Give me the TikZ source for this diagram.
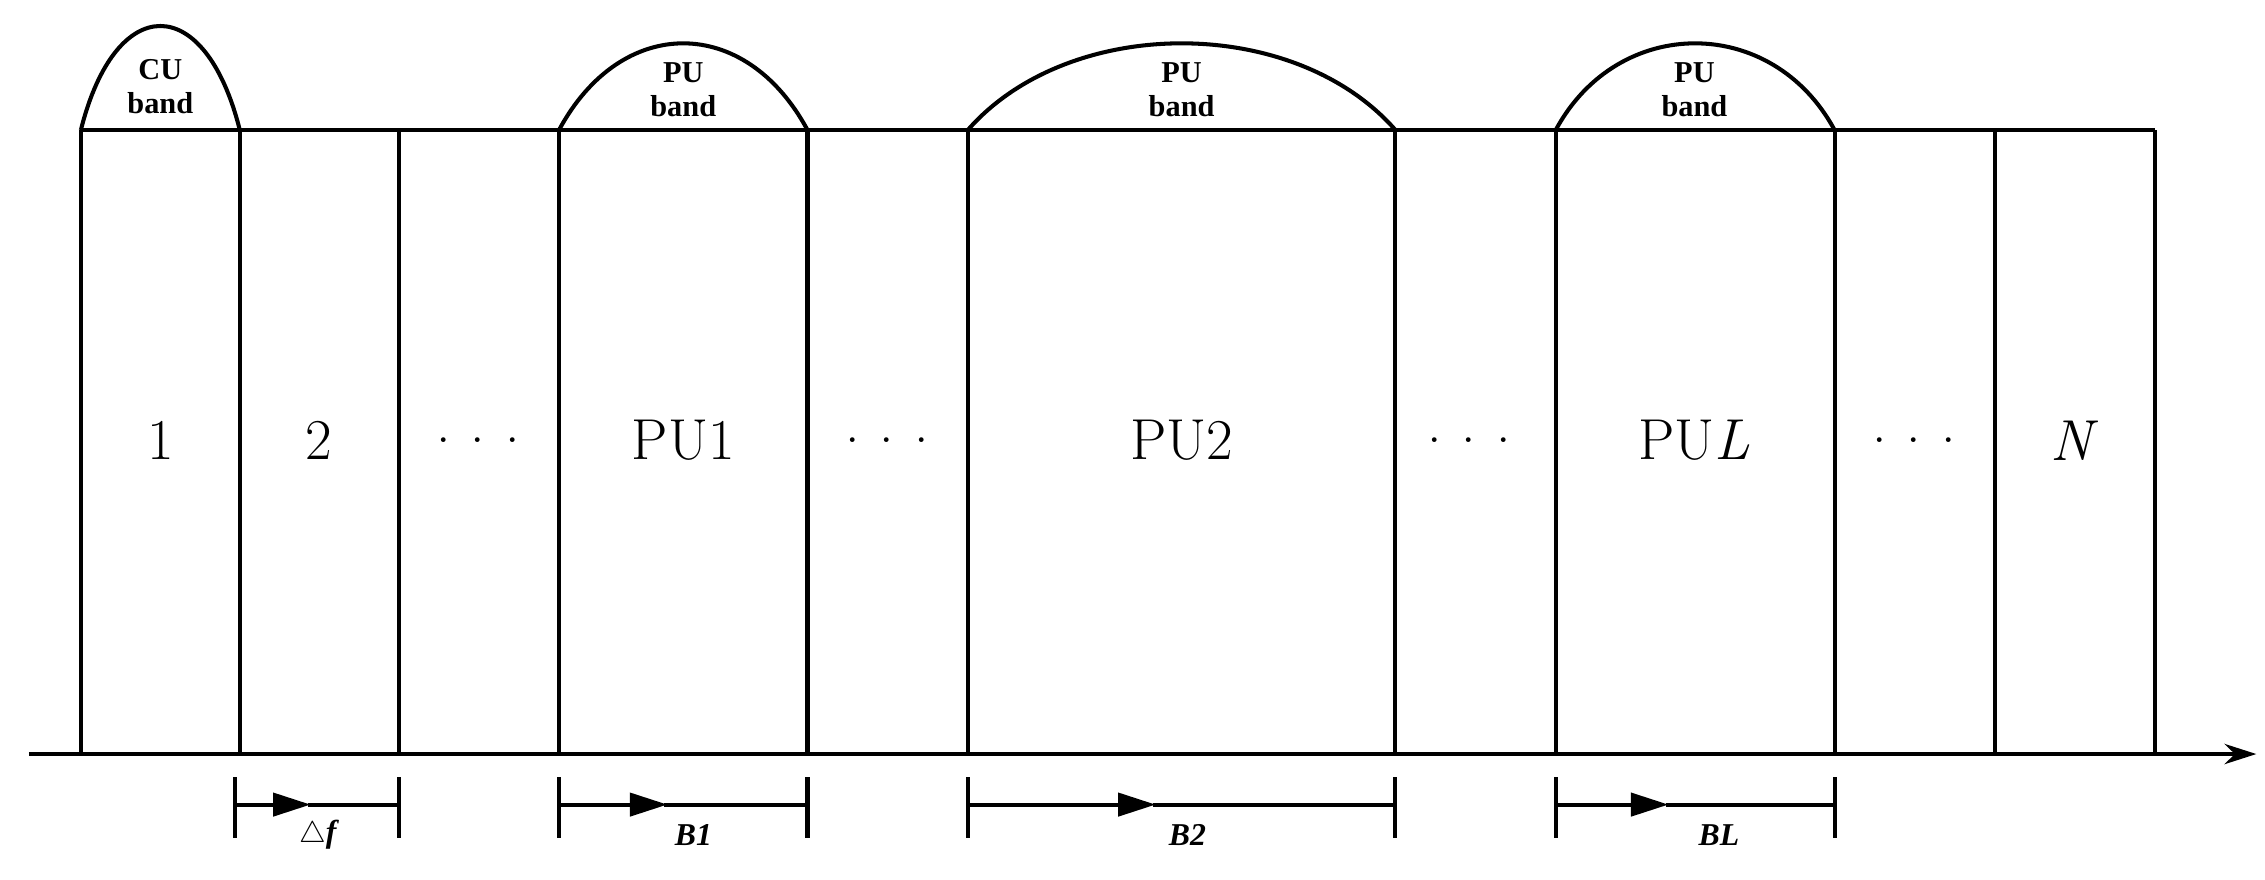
\documentclass[tikz,border=0pt]{standalone}
\usepackage{fontspec}
\newfontfamily\tnr{Liberation Serif}
\usetikzlibrary{arrows.meta}
\newcommand{\mydots}{.\hspace{0.35em}.\hspace{0.35em}.}
\begin{document}
\begin{tikzpicture}[x=1pt,y=-1pt,line width=2.8pt,
  num/.style={font=\fontsize{40}{40}\selectfont},
  band/.style={font=\tnr\bfseries\fontsize{21}{24}\selectfont,align=center},
  blab/.style={font=\tnr\bfseries\itshape\fontsize{22}{22}\selectfont},
  tip/.style={-{Triangle[length=26pt,width=16pt]}},
  tick/.style={line width=2.8pt}]
\useasboundingbox (0,0) rectangle (1568,609);
% frame
\draw (56,90) -- (1492,90);
\foreach \x in {56,166,276,387,559,670,966,1077,1270,1381,1492}
  \draw (\x,90) -- (\x,522);
\draw[-{Stealth[length=22pt,width=14pt]}] (20,522) -- (1562,522);
% arcs
\draw (56,90) .. controls (80,-6) and (142,-6) .. (166,90);
\draw (387,90) .. controls (430,10) and (516,10) .. (559,90);
\draw (670,90) .. controls (740,10) and (896,10) .. (966,90);
\draw (1077,90) .. controls (1120,10) and (1227,10) .. (1270,90);
\node[band] (cu) at (111,60) {CU\\band};
\node[band] (pu1) at (473,62) {PU\\band};
\node[band] (pu2) at (818,62) {PU\\band};
\node[band] (puL) at (1173,62) {PU\\band};
% cell labels
\node[num] (c1) at (111,305) {1};
\node[num] (c2) at (221,305) {2};
\node[num] (d1) at (331,305) {\mydots};
\node[num] (p1) at (473,305) {PU1};
\node[num] (d2) at (614,305) {\mydots};
\node[num] (p2) at (818,305) {PU2};
\node[num] (d3) at (1017,305) {\mydots};
\node[num] (pL) at (1173,305) {PU\textit{L}};
\node[num] (d4) at (1325,305) {\mydots};
\node[num] (cN) at (1436,305) {\textit{N}};
% brackets
\foreach \a/\b/\m in {163/276/215,387/559/462,670/966/800,1077/1270/1155}{
  \draw[tick] (\a,538) -- (\a,580);
  \draw[tick] (\b,538) -- (\b,580);
  \draw[tip] (\a,557) -- (\m,557);
  \draw (\m-2,557) -- (\b,557);
}
\node[blab] (df) at (220,578) {$\triangle$f};
\node[blab] (b1) at (480,578) {B1};
\node[blab] (b2) at (822,578) {B2};
\node[blab] (bL) at (1190,578) {BL};
\end{tikzpicture}
\end{document}
